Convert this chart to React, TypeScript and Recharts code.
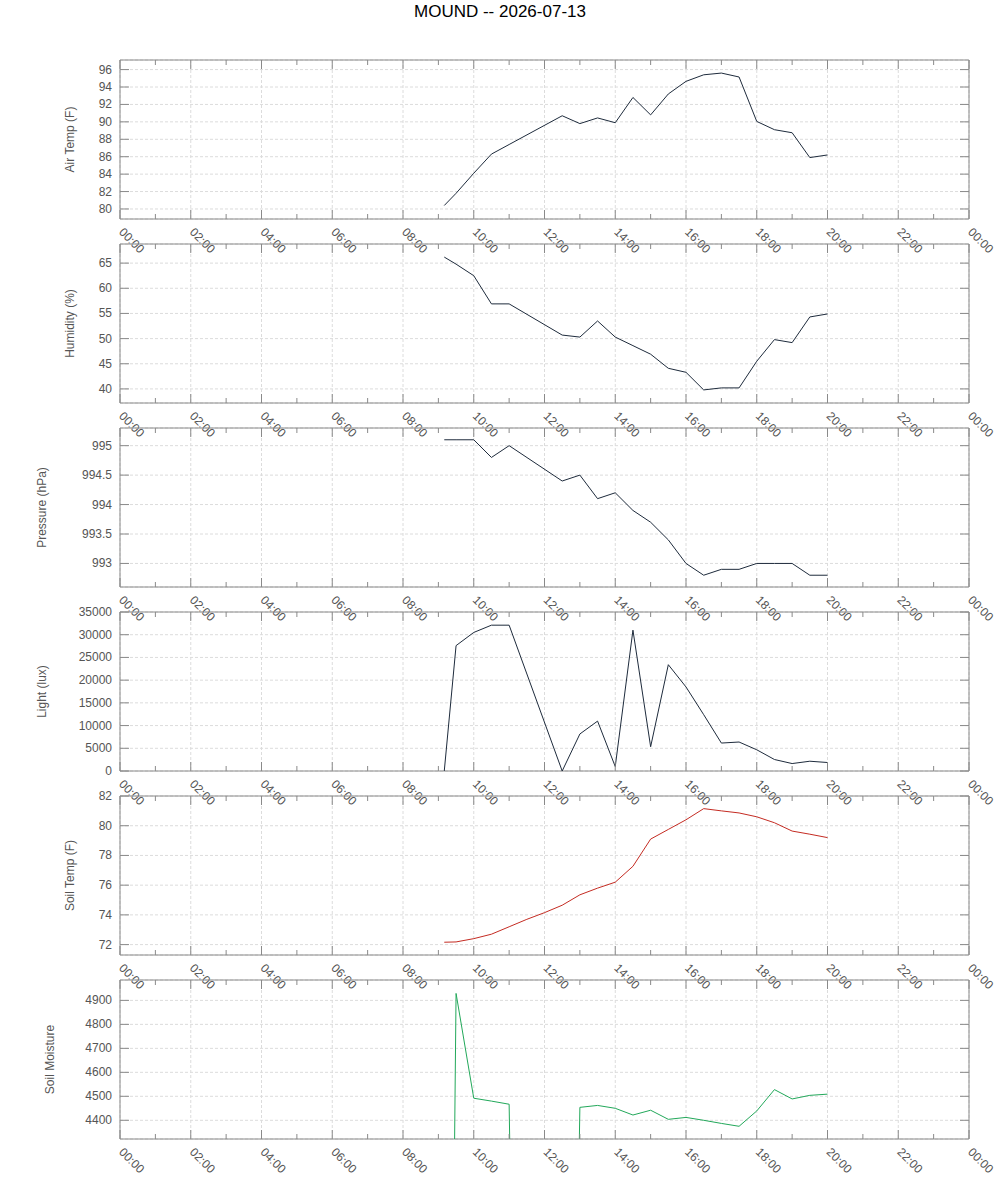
import React from "react";
import { LineChart, Line, XAxis, YAxis, ReferenceArea, CartesianGrid } from "recharts";

// readings of the day, one row per sample time
const times = [
    "09:10", "09:30", "10:00", "10:30", "11:00", "11:30", "12:00", "12:30",
    "13:00", "13:30", "14:00", "14:30", "15:00", "15:30", "16:00", "16:30",
    "17:00", "17:30", "18:00", "18:30", "19:00", "19:30", "20:00"
];

const airTemp = [
    80.4, 81.8, 84.1, 86.3, 87.4, null, null, 90.7, 89.8, 90.45, 89.9, 92.8,
    90.8, 93.2, 94.65, 95.4, 95.6, 95.15, 90.05, 89.1, 88.75, 85.9, 86.2
];
const humidity = [
    66.2, 64.8, 62.5, 56.9, 56.9, null, null, 50.7, 50.3, 53.5, 50.3, 48.6,
    46.9, 44.1, 43.3, 39.8, 40.2, 40.2, 45.5, 49.8, 49.2, 54.3, 54.9
];
const pressure = [
    995.1, 995.1, 995.1, 994.8, 995.0, null, null, 994.4, 994.5, 994.1, 994.2,
    993.9, 993.7, 993.4, 993.0, 992.8, 992.9, 992.9, 993.0, 993.0, 993.0,
    992.8, 992.8
];
const light = [
    0, 27600, 30500, 32100, 32100, null, null, 0, 8150, 10980, 980, 31000,
    5340, 23400, 18500, 12400, 6150, 6380, 4670, 2530, 1640, 2150, 1870
];
const soilTemp = [
    72.16, 72.18, 72.4, 72.7, 73.2, 73.7, 74.15, 74.65, 75.35, 75.8, 76.2,
    77.27, 79.1, 79.75, 80.4, 81.15, 81.0, 80.86, 80.6, 80.2, 79.64, 79.43, 79.2
];
const soilMoisture = [
    0, 4929, 4492, 4480, 4467, 0, 0, 0, 4454, 4462, 4450, 4422, 4442, 4404,
    4412, 4400, 4387, 4375, 4439, 4528, 4489, 4504, 4509
];

const hourTicks = [
    0, 1, 2, 3, 4, 5, 6, 7, 8, 9, 10, 11, 12, 13, 14, 15, 16, 17, 18, 19, 20,
    21, 22, 23, 24
];
const gridHours = [2, 4, 6, 8, 10, 12, 14, 16, 18, 20, 22];
const airTicks = [80, 82, 84, 86, 88, 90, 92, 94, 96];
const humidityTicks = [40, 45, 50, 55, 60, 65];
const pressureTicks = [993, 993.5, 994, 994.5, 995];
const lightTicks = [0, 5000, 10000, 15000, 20000, 25000, 30000, 35000];
const soilTempTicks = [72, 74, 76, 78, 80, 82];
const soilMoistureTicks = [4400, 4500, 4600, 4700, 4800, 4900];

const FONT = "'Liberation Sans', Arial, sans-serif";
const TEXT = "#555555";
const BORDER = "#8a8a8a";
const GRID = "#dcdcdc";
const PLOT_LEFT = 120;
const PLOT_RIGHT = 969;
const PLOT_H = 159;
const MT = 10;
const BOTTOM_SPACE = 52;

const toHours = (t: string) => {
    const [h, m] = t.split(":").map(Number);
    return h + m / 60;
};

const hourLabel = (v: number) => `${String(v % 24).padStart(2, "0")}:00`;

type PanelProps = {
    top: number;
    label: string;
    labelX: number;
    values: (number | null)[];
    domain: [number, number];
    ticks: number[];
    color: string;
};

const Panel: React.FC<PanelProps> = ({
    top,
    label,
    labelX,
    values,
    domain,
    ticks,
    color
}) => {
    const rows = times.map((t, i) => ({ hour: toHours(t), value: values[i] }));
    const height = MT + PLOT_H + BOTTOM_SPACE;

    /** x ticks: inward marks top and bottom, rotated labels */
    const renderXTick = (p: any) => {
        const { x, y, payload } = p;
        const v = payload.value as number;
        const major = v % 2 === 0;
        const len = major ? 9 : 5;
        const ty = y - PLOT_H;
        const lx = x + 1;
        const ly = y + 11;
        return (
            <g>
                <line x1={x} x2={x} y1={y} y2={y - len} stroke={BORDER} />
                <line x1={x} x2={x} y1={ty} y2={ty + len} stroke={BORDER} />
                {major && (
                    <text
                        x={lx}
                        y={ly}
                        transform={`rotate(45 ${lx} ${ly})`}
                        fontSize={12}
                        fontFamily={FONT}
                        fill={TEXT}
                        dominantBaseline="central"
                    >
                        {hourLabel(v)}
                    </text>
                )}
            </g>
        );
    };

    /** y ticks: inward marks left and right, labels */
    const renderYTick = (p: any) => {
        const { x, y, payload } = p;
        return (
            <g>
                <line x1={x} x2={x + 9} y1={y} y2={y} stroke={BORDER} />
                <line x1={PLOT_RIGHT - 9} x2={PLOT_RIGHT} y1={y} y2={y} stroke={BORDER} />
                <text
                    x={x - 8}
                    y={y}
                    textAnchor="end"
                    dominantBaseline="central"
                    fontSize={12}
                    fontFamily={FONT}
                    fill={TEXT}
                >
                    {payload.value}
                </text>
            </g>
        );
    };

    const renderLabel = (lp: any) => {
        const vb = lp && lp.viewBox ? lp.viewBox : {};
        const cy = (vb.y ?? MT) + (vb.height ?? PLOT_H) / 2;
        return (
            <text
                x={labelX}
                y={cy}
                transform={`rotate(-90 ${labelX} ${cy})`}
                textAnchor="middle"
                dominantBaseline="central"
                fontSize={12}
                fontFamily={FONT}
                fill={TEXT}
            >
                {label}
            </text>
        );
    };

    return (
        <div style={{ position: "absolute", left: 0, top: top - MT, width: 1000, height }}>
            <LineChart
                width={1000}
                height={height}
                data={rows}
                margin={{ top: MT, right: 1000 - PLOT_RIGHT, bottom: 0, left: 0 }}
            >
                <CartesianGrid
                    xAxisId="grid"
                    stroke={GRID}
                    strokeDasharray="3 2"
                    fill="none"
                />
                <XAxis
                    dataKey="hour"
                    type="number"
                    domain={[0, 24]}
                    ticks={hourTicks}
                    interval={0}
                    height={BOTTOM_SPACE}
                    tickSize={0}
                    tickMargin={0}
                    axisLine={false}
                    tickLine={false}
                    tick={renderXTick}
                />
                <XAxis
                    xAxisId="grid"
                    dataKey="hour"
                    type="number"
                    domain={[0, 24]}
                    ticks={gridHours}
                    interval={0}
                    hide
                />
                <YAxis
                    type="number"
                    width={PLOT_LEFT}
                    domain={domain}
                    ticks={ticks}
                    interval={0}
                    allowDataOverflow
                    tickSize={0}
                    tickMargin={0}
                    axisLine={false}
                    tickLine={false}
                    tick={renderYTick}
                    label={{ content: renderLabel }}
                />
                <ReferenceArea
                    x1={0}
                    x2={24}
                    y1={domain[0]}
                    y2={domain[1]}
                    fill="none"
                    fillOpacity={0}
                    stroke={BORDER}
                    strokeWidth={1}
                />
                <Line
                    type="linear"
                    dataKey="value"
                    stroke={color}
                    strokeWidth={1}
                    dot={false}
                    connectNulls
                    isAnimationActive={false}
                />
            </LineChart>
        </div>
    );
};

const NAVY = "#1e2b3c";

export default function App() {
    const panels: Omit<PanelProps, "top">[] = [
        { label: "Air Temp (F)", labelX: 70, values: airTemp, domain: [78.85, 97.1], ticks: airTicks, color: NAVY },
        { label: "Humidity (%)", labelX: 70, values: humidity, domain: [37.2, 68.8], ticks: humidityTicks, color: NAVY },
        { label: "Pressure (hPa)", labelX: 42, values: pressure, domain: [992.6, 995.3], ticks: pressureTicks, color: NAVY },
        { label: "Light (lux)", labelX: 42, values: light, domain: [0, 35000], ticks: lightTicks, color: NAVY },
        { label: "Soil Temp (F)", labelX: 70, values: soilTemp, domain: [71.3, 82], ticks: soilTempTicks, color: "#c42b22" },
        { label: "Soil Moisture", labelX: 50, values: soilMoisture, domain: [4322, 4985], ticks: soilMoistureTicks, color: "#22a85a" }
    ];

    return (
        <div style={{ position: "relative", width: 1000, height: 1200, background: "#fff", fontFamily: FONT }}>
            <style>{"body{margin:0}"}</style>
            <div
                style={{
                    position: "absolute",
                    top: 2,
                    left: 0,
                    width: 1000,
                    textAlign: "center",
                    fontSize: 17,
                    lineHeight: "20px",
                    color: "#000"
                }}
            >
                MOUND -- 2026-07-13
            </div>
            {panels.map((p, i) => (
                <Panel key={p.label} top={60 + i * 184} {...p} />
            ))}
        </div>
    );
}
